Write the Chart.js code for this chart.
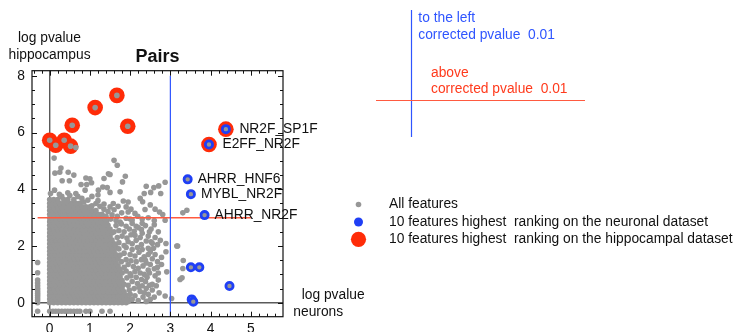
<!DOCTYPE html>
<html>
<head>
<meta charset="utf-8">
<script src="https://cdn.jsdelivr.net/npm/chart.js@4.4.1/dist/chart.umd.min.js"></script>
<style>
  html, body { margin: 0; padding: 0; background: #fff; overflow: hidden; }
  canvas { display: block; }
</style>
</head>
<body>
<canvas id="chart" width="735" height="332"></canvas>
<script>
// ---- axes ----
const xRange = [-0.44, 5.8];
const yRange = [-0.49, 8.18];
const xTicks = [0, 1, 2, 3, 4, 5];
const yTicks = [0, 2, 4, 6, 8];
const xMinorTicks = [-0.4, -0.2, 0.2, 0.4, 0.6, 0.8, 1.2, 1.4, 1.6, 1.8, 2.2, 2.4, 2.6, 2.8,
  3.2, 3.4, 3.6, 3.8, 4.2, 4.4, 4.6, 4.8, 5.2, 5.4, 5.6];
const yMinorTicks = [0.5, 1, 1.5, 2.5, 3, 3.5, 4.5, 5, 5.5, 6.5, 7, 7.5];

// significance cut-offs (log pvalue of corrected pvalue 0.01)
const neuronCutoff = 3;
const hippoCutoff = 3;

// ---- all features: dense core, one row of neuron values per hippocampus value ----
const coreRows = [
  [0.00, [0,.1,.2,.3,.4,.5,.6,.7,.8,.9,1,1.1,1.2,1.3,1.4,1.5,1.6,1.7,1.8,1.9]],
  [0.13, [0,.05,.15,.25,.35,.45,.55,.65,.75,.85,.95,1.05,1.15,1.25,1.35,1.45,1.55,1.65,1.75,1.85,1.95]],
  [0.26, [0,.1,.2,.3,.4,.5,.6,.7,.8,.9,1,1.1,1.2,1.3,1.4,1.5,1.6,1.7,1.8,1.9]],
  [0.39, [0,.05,.15,.25,.35,.45,.55,.65,.75,.85,.95,1.05,1.15,1.25,1.35,1.45,1.55,1.65,1.75,1.85]],
  [0.52, [0,.1,.2,.3,.4,.5,.6,.7,.8,.9,1,1.1,1.2,1.3,1.4,1.5,1.6,1.7,1.8]],
  [0.65, [0,.05,.15,.25,.35,.45,.55,.65,.75,.85,.95,1.05,1.15,1.25,1.35,1.45,1.55,1.65,1.75,1.85]],
  [0.78, [0,.1,.2,.3,.4,.5,.6,.7,.8,.9,1,1.1,1.2,1.3,1.4,1.5,1.6,1.7,1.8]],
  [0.91, [0,.05,.15,.25,.35,.45,.55,.65,.75,.85,.95,1.05,1.15,1.25,1.35,1.45,1.55,1.65,1.75]],
  [1.04, [0,.1,.2,.3,.4,.5,.6,.7,.8,.9,1,1.1,1.2,1.3,1.4,1.5,1.6,1.7]],
  [1.17, [0,.05,.15,.25,.35,.45,.55,.65,.75,.85,.95,1.05,1.15,1.25,1.35,1.45,1.55,1.65,1.75]],
  [1.30, [0,.1,.2,.3,.4,.5,.6,.7,.8,.9,1,1.1,1.2,1.3,1.4,1.5,1.6,1.7]],
  [1.43, [0,.05,.15,.25,.35,.45,.55,.65,.75,.85,.95,1.05,1.15,1.25,1.35,1.45,1.55,1.65]],
  [1.56, [0,.1,.2,.3,.4,.5,.6,.7,.8,.9,1,1.1,1.2,1.3,1.4,1.5,1.6,1.7]],
  [1.69, [0,.05,.15,.25,.35,.45,.55,.65,.75,.85,.95,1.05,1.15,1.25,1.35,1.45,1.55,1.65]],
  [1.82, [0,.1,.2,.3,.4,.5,.6,.7,.8,.9,1,1.1,1.2,1.3,1.4,1.5,1.6]],
  [1.95, [0,.05,.15,.25,.35,.45,.55,.65,.75,.85,.95,1.05,1.15,1.25,1.35,1.45,1.55,1.65]],
  [2.08, [0,.1,.2,.3,.4,.5,.6,.7,.8,.9,1,1.1,1.2,1.3,1.4,1.5,1.6]],
  [2.21, [0,.05,.15,.25,.35,.45,.55,.65,.75,.85,.95,1.05,1.15,1.25,1.35,1.45,1.55]],
  [2.34, [0,.1,.2,.3,.4,.5,.6,.7,.8,.9,1,1.1,1.2,1.3,1.4,1.5]],
  [2.47, [0,.05,.15,.25,.35,.45,.55,.65,.75,.85,.95,1.05,1.15,1.25,1.35,1.45,1.55]],
  [2.60, [0,.1,.2,.3,.4,.5,.6,.7,.8,.9,1,1.1,1.2,1.3,1.4,1.5]],
  [2.73, [0,.05,.15,.25,.35,.45,.55,.65,.75,.85,.95,1.05,1.15,1.25,1.35,1.45]],
  [2.86, [0,.1,.2,.3,.4,.5,.6,.7,.8,.9,1,1.1,1.2,1.3,1.4]],
  [2.99, [0,.05,.15,.25,.35,.45,.55,.65,.75,.85,.95,1.05,1.15,1.25,1.35]],
  [3.12, [0,.1,.2,.3,.4,.5,.6,.7,.8,.9,1,1.1,1.2,1.3]],
  [3.25, [0,.05,.15,.25,.35,.45,.55,.65,.75,.85,.95,1.05,1.15]],
  [3.38, [0,.1,.2,.3,.4,.5,.6,.7,.8,.9,1]],
  [3.51, [0,.05,.15,.25,.35,.45,.55,.65,.75]],
  [3.64, [0,.1,.2,.35,.45,.6]]
];

// thinner edge of the cloud
const edgePoints = [
  [1.95,0.05],[2.05,0.12],[2.0,0.3],[2.12,0.25],[2.2,0.08],[1.98,0.45],[2.1,0.5],[2.25,0.4],
  [2.32,0.2],[1.95,0.62],[2.05,0.75],[2.18,0.68],[2.3,0.6],[2.4,0.5],[1.92,0.88],[2.02,0.95],
  [2.15,0.9],[2.28,0.82],[2.38,0.75],[2.45,0.3],[2.5,0.12],[2.4,0.05],[2.35,0.35],[2.48,0.62],
  [2.42,0.9],[2.55,0.45],[2.22,0.55],
  [1.8,1.05],[1.9,1.12],[2.0,1.02],[2.12,1.1],[2.25,1.05],[2.35,1.0],[1.85,1.25],[1.95,1.35],
  [2.08,1.28],[2.2,1.22],[2.32,1.3],[2.45,1.15],[1.78,1.45],[1.9,1.52],[2.02,1.48],[2.15,1.45],
  [2.28,1.52],[2.4,1.4],[1.75,1.68],[1.85,1.75],[2.0,1.7],[2.12,1.65],[2.22,1.78],[2.35,1.62],
  [1.72,1.9],[1.9,1.95],[2.05,1.88],[2.18,1.95],[2.48,1.05],[2.38,1.5],[2.3,1.88],[2.45,1.7],
  [1.62,2.05],[1.72,2.12],[1.85,2.02],[1.95,2.15],[2.05,2.08],[2.15,2.2],[1.68,2.3],[1.8,2.35],
  [1.92,2.28],[2.02,2.4],[1.6,2.5],[1.72,2.55],[1.85,2.5],[1.98,2.6],[2.1,2.52],[1.65,2.72],
  [1.78,2.78],[1.9,2.7],[2.25,2.3],[2.12,2.38],[2.28,2.58],[2.15,2.7],[2.3,2.8],[2.48,2.5],
  [1.42,2.88],[1.52,2.95],[1.65,2.9],[1.75,2.85],[1.4,3.05],[1.55,3.1],[1.68,3.05],[1.45,3.22],
  [1.6,3.28],[1.79,3.17],[1.35,3.3],[2.0,2.95],[1.7,3.4],[1.9,3.38],[2.02,3.3],
  [1.05,3.42],[1.15,3.5],[1.25,3.4],[1.35,3.48],[1.5,3.38],[1.58,3.5],[1.2,3.6],[0.85,3.55],[0.95,3.62],
  [0.3,3.75],[0.5,3.78],[0.7,3.75],[0.8,3.68],
  [0.02,3.85],[0.24,3.82],[0.45,3.88],[0.65,3.85],[1.05,3.75],[1.2,3.8]
];

// scattered features
const sparsePoints = [
  [2.6,0.2],[2.72,0.35],[2.87,0.24],[2.55,0.65],[2.7,0.8],[2.62,0.95],[2.65,0.6],[3.03,0.15],
  [2.5,1.35],[2.6,1.2],[2.7,1.05],[2.55,1.55],[2.68,1.45],[2.5,1.8],[2.62,1.7],[2.78,1.6],
  [2.89,1.8],[2.91,1.09],[2.45,1.92],[2.58,1.92],[2.68,1.25],[2.78,1.35],
  [2.28,2.05],[2.4,2.18],[2.55,2.1],[2.3,2.45],[2.45,2.35],[2.62,2.3],[2.2,2.65],[2.38,2.72],
  [2.52,2.6],[2.7,2.5],[2.89,2.09],[2.75,2.2],[3.16,2.0],[2.05,2.8],[2.6,2.75],[2.52,2.15],[2.68,2.05],
  [1.9,2.98],[2.05,2.92],[2.12,3.15],[2.19,3.05],[2.3,2.95],[2.45,3.0],[2.6,2.9],[2.81,3.11],
  [2.87,2.91],[2.73,3.2],[2.37,3.29],[1.95,3.2],[2.5,3.45],[2.62,3.3],
  [1.83,3.59],[1.95,3.55],[2.31,3.56],[2.25,3.68],
  [1.5,3.89],[1.75,3.91],[2.35,3.85],[2.51,3.89],[2.76,3.85],
  [0.11,5.1],[0.28,4.75],[0.13,4.57],[0.25,4.6],[0.46,4.6],[0.6,4.5],[0.9,4.4],[1.0,4.37],
  [1.46,4.55],[1.6,5.02],[1.68,4.85],[1.88,4.46],[1.5,4.52],[1.35,4.38],[1.81,4.26],[1.32,4.08],
  [0.31,4.3],[0.49,4.3],[0.78,4.17],[0.92,4.17],[1.04,4.23],[0.88,3.97],[1.21,3.97],[1.43,4.06],
  [0.12,3.97],[2.4,4.11],[2.59,4.06],[2.71,4.12],[2.87,4.25],[0.65,5.47],
  [3.31,3.17],[3.41,3.26],[3.18,2.0],[3.32,1.49],[3.31,1.21],[3.24,0.82],[3.29,0.88],
  // features missing a value in one dataset
  [-0.3,1.42],[-0.3,1.06],[-0.3,0.8],[-0.3,0.7],[-0.3,0.6],[-0.3,0.5],[-0.3,0.42],[-0.3,0.34],
  [-0.3,0.26],[-0.3,0.18],[-0.3,0.1],[-0.3,0.0],
  [-0.3,-0.3],[0.0,-0.3],[0.08,-0.3],[0.15,-0.3],[0.22,-0.3],[0.3,-0.3],[0.38,-0.3],[0.45,-0.3],
  [0.52,-0.3],[0.6,-0.3],[0.68,-0.3],[0.75,-0.3],[0.9,-0.3],[1.0,-0.3],[1.3,-0.3],[1.5,-0.3]
];

// 10 features ranking highest on the hippocampal dataset
const hippoTop = [
  [0.0,5.73],[0.15,5.55],[0.36,5.73],[0.52,5.52],[0.56,6.26],
  [1.13,6.88],[1.67,7.31],[1.94,6.22],[4.38,6.12],[3.96,5.58]
];
// 10 features ranking highest on the neuronal dataset
const neuronTop = [
  [4.38,6.12],[3.96,5.58],[3.43,4.35],[3.51,3.83],[3.85,3.09],
  [3.51,1.25],[3.72,1.25],[4.47,0.59],[3.53,0.12],[3.57,0.04]
];
const neuronNames = ['NR2F_SP1F','E2FF_NR2F','AHRR_HNF6','MYBL_NR2F','AHRR_NR2F','','','','',''];

const legendLabels = [
  'All features',
  '10 features highest  ranking on the neuronal dataset',
  '10 features highest  ranking on the hippocampal dataset'
];

// ---- colours ----
const GRAY = '#979797';
const RED = '#ff2c08';
const BLUE = '#1f3ff5';
const LINE_RED = '#ff5a40';
const LINE_BLUE = '#2f55ff';
const TEXT_BLUE = '#2f55ff';
const TEXT_RED = '#ff3a1c';
const FONT = '"Liberation Sans", Arial, Helvetica, sans-serif';

const toXY = ([x, y]) => ({ x, y });
const allFeatures = coreRows.flatMap(([y, xs]) => xs.map(x => ({ x, y })))
  .concat(edgePoints.map(toXY), sparsePoints.map(toXY), hippoTop.map(toXY), neuronTop.map(toXY));

Chart.defaults.font.family = FONT;
Chart.defaults.font.size = 13.8;
Chart.defaults.color = '#111';

function isHippoTop(p) {
  return hippoTop.some(h => h[0] === p[0] && h[1] === p[1]);
}

// frame with inward ticks on every side, axis titles, legend and notes
const decorations = {
  id: 'decorations',
  afterDatasetsDraw(chart) {
    const { ctx, chartArea: a, scales: { x: sx, y: sy } } = chart;
    ctx.save();

    // point names
    ctx.font = '13.8px ' + FONT;
    ctx.fillStyle = '#111';
    ctx.textBaseline = 'middle';
    ctx.textAlign = 'left';
    neuronTop.forEach((p, i) => {
      if (!neuronNames[i]) return;
      const off = isHippoTop(p) ? 13.5 : 10;
      ctx.fillText(neuronNames[i], sx.getPixelForValue(p[0]) + off, sy.getPixelForValue(p[1]));
    });

    // frame
    ctx.strokeStyle = '#111';
    ctx.lineWidth = 1.2;
    ctx.strokeRect(a.left, a.top, a.right - a.left, a.bottom - a.top);

    ctx.lineWidth = 1;
    const tick = (vals, len) => {
      vals.forEach(v => {
        const px = Math.round(sx.getPixelForValue(v)) + 0.5;
        ctx.beginPath();
        ctx.moveTo(px, a.bottom); ctx.lineTo(px, a.bottom - len);
        ctx.moveTo(px, a.top); ctx.lineTo(px, a.top + len);
        ctx.stroke();
      });
    };
    const tickY = (vals, len) => {
      vals.forEach(v => {
        const py = Math.round(sy.getPixelForValue(v)) + 0.5;
        ctx.beginPath();
        ctx.moveTo(a.left, py); ctx.lineTo(a.left + len, py);
        ctx.moveTo(a.right, py); ctx.lineTo(a.right - len, py);
        ctx.stroke();
      });
    };
    tick(xTicks, 5); tick(xMinorTicks, 3);
    tickY(yTicks, 5); tickY(yMinorTicks, 3);

    // titles
    ctx.fillStyle = '#111';
    ctx.textAlign = 'center';
    ctx.font = '13.8px ' + FONT;
    ctx.fillText('log pvalue', 49.5, 38.5);
    ctx.fillText('hippocampus', 49.5, 55.2);
    ctx.font = 'bold 18px ' + FONT;
    ctx.fillText('Pairs', 157.5, 57);
    ctx.font = '13.8px ' + FONT;
    ctx.textAlign = 'left';
    ctx.fillText('log pvalue', 301.7, 295);
    ctx.fillText('neurons', 293.3, 311.7);

    // legend
    const lx = 358.5;
    const rows = [204.5, 222, 239.3];
    ctx.fillStyle = GRAY;
    ctx.beginPath(); ctx.arc(lx, rows[0], 2.8, 0, Math.PI * 2); ctx.fill();
    ctx.fillStyle = BLUE;
    ctx.beginPath(); ctx.arc(lx, rows[1], 4.5, 0, Math.PI * 2); ctx.fill();
    ctx.fillStyle = RED;
    ctx.beginPath(); ctx.arc(lx, rows[2], 7.6, 0, Math.PI * 2); ctx.fill();
    ctx.fillStyle = '#111';
    legendLabels.forEach((t, i) => ctx.fillText(t, 389, rows[i]));

    // cut-off notes
    ctx.strokeStyle = LINE_BLUE;
    ctx.lineWidth = 1.2;
    ctx.beginPath(); ctx.moveTo(411.5, 10); ctx.lineTo(411.5, 137); ctx.stroke();
    ctx.strokeStyle = LINE_RED;
    ctx.beginPath(); ctx.moveTo(376, 100.5); ctx.lineTo(585, 100.5); ctx.stroke();
    ctx.fillStyle = TEXT_BLUE;
    ctx.fillText('to the left', 418.3, 18.5);
    ctx.fillText('corrected pvalue  0.01', 418.3, 35.2);
    ctx.fillStyle = TEXT_RED;
    ctx.fillText('above', 431, 72.8);
    ctx.fillText('corrected pvalue  0.01', 431, 89.5);

    ctx.restore();
  }
};

const lineSet = (data, color, width, order) => ({
  type: 'scatter', data, showLine: true, borderColor: color, borderWidth: width,
  pointRadius: 0, fill: false, order, clip: false
});

new Chart(document.getElementById('chart'), {
  type: 'scatter',
  data: {
    datasets: [
      // zero axes
      lineSet([{ x: 0, y: yRange[0] }, { x: 0, y: yRange[1] }], '#5a5a5a', 1.4, 8),
      lineSet([{ x: xRange[0], y: 0 }, { x: xRange[1], y: 0 }], '#5a5a5a', 1.4, 8),
      {
        label: legendLabels[2], data: hippoTop.map(toXY), order: 6,
        pointRadius: 7.8, pointBackgroundColor: RED, pointBorderWidth: 0, pointHoverRadius: 7.8
      },
      {
        label: legendLabels[0], data: allFeatures, order: 4,
        pointRadius: 2.8, pointBackgroundColor: GRAY, pointBorderWidth: 0, pointHoverRadius: 2.8
      },
      // cut-off lines
      lineSet([{ x: neuronCutoff, y: 8 }, { x: neuronCutoff, y: yRange[0] }], LINE_BLUE, 1.2, 3),
      lineSet([{ x: -0.3, y: hippoCutoff }, { x: 5, y: hippoCutoff }], LINE_RED, 1.5, 3),
      {
        label: legendLabels[1], data: neuronTop.map(toXY), order: 1,
        pointRadius: 3.6, pointBackgroundColor: GRAY, pointBorderColor: BLUE,
        pointBorderWidth: 2.8, pointHoverRadius: 3.6
      }
    ]
  },
  options: {
    responsive: false,
    animation: false,
    events: [],
    layout: { padding: { left: 0, top: 70.7, right: 452, bottom: 0 } },
    plugins: { legend: { display: false }, tooltip: { enabled: false } },
    scales: {
      x: {
        type: 'linear', min: xRange[0], max: xRange[1],
        grid: { display: false, drawTicks: false },
        border: { display: false },
        ticks: { padding: 4, font: { size: 13.8 }, color: '#111' },
        afterBuildTicks: s => { s.ticks = xTicks.map(v => ({ value: v })); },
        afterFit: s => { s.height = 15.3; }
      },
      y: {
        type: 'linear', min: yRange[0], max: yRange[1],
        grid: { display: false, drawTicks: false },
        border: { display: false },
        ticks: { padding: 7, font: { size: 13.8 }, color: '#111' },
        afterBuildTicks: s => { s.ticks = yTicks.map(v => ({ value: v })); },
        afterFit: s => { s.width = 32; }
      }
    }
  },
  plugins: [decorations]
});
</script>
</body>
</html>
